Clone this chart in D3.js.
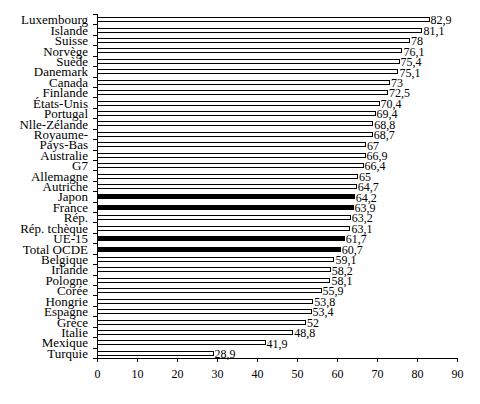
<!DOCTYPE html>
<html>
<head>
<meta charset="utf-8">
<script src="https://cdn.jsdelivr.net/npm/d3@7"></script>
<style>
  html, body { margin: 0; padding: 0; background: #fff; }
  svg { display: block; }
  text { font-family: "Liberation Serif", "Times New Roman", serif; fill: #000; }
</style>
</head>
<body>
<script>
const categories = ["Luxembourg","Islande","Suisse","Norvège","Suède","Danemark","Canada","Finlande","États-Unis","Portugal","Nlle-Zélande","Royaume-","Pays-Bas","Australie","G7","Allemagne","Autriche","Japon","France","Rép.","Rép. tchèque","UE-15","Total OCDE","Belgique","Irlande","Pologne","Corée","Hongrie","Espagne","Grèce","Italie","Mexique","Turquie"];
const values = [82.9,81.1,78,76.1,75.4,75.1,73,72.5,70.4,69.4,68.8,68.7,67,66.9,66.4,65,64.7,64.2,63.9,63.2,63.1,61.7,60.7,59.1,58.2,58.1,55.9,53.8,53.4,52,48.8,41.9,28.9];
const highlighted = ["Japon","France","UE-15","Total OCDE"];
const xTicks = [0,10,20,30,40,50,60,70,80,90];

const W = 480, H = 404;
const svg = d3.select("body").append("svg").attr("width", W).attr("height", H);

const x = d3.scaleLinear().domain([0, 90]).range([97, 457]);
const y = d3.scaleBand().domain(categories).range([14, 358]).paddingInner(0).paddingOuter(0);

const data = categories.map((c, i) => ({ c, v: values[i] }));
const barH = 4;

// bars
svg.append("g").selectAll("rect").data(data).enter().append("rect")
  .attr("x", x(0) + 0.5)
  .attr("y", d => Math.round(y(d.c) + y.bandwidth() / 2 - barH / 2) + 0.5)
  .attr("width", d => x(d.v) - x(0))
  .attr("height", barH)
  .attr("fill", d => highlighted.includes(d.c) ? "#000" : "#fff")
  .attr("stroke", "#000")
  .attr("stroke-width", 1)
  .attr("shape-rendering", "crispEdges");

// value labels
svg.append("g").selectAll("text").data(data).enter().append("text")
  .attr("x", d => x(d.v) + 2)
  .attr("y", d => y(d.c) + y.bandwidth() / 2 + 1)
  .attr("dy", "0.35em")
  .attr("font-size", 12)
  .text(d => String(d.v).replace(".", ","));

// left axis line
const yr = y.range();
svg.append("line")
  .attr("x1", x(0) + 0.5).attr("x2", x(0) + 0.5)
  .attr("y1", yr[0]).attr("y2", yr[1] + 0.5)
  .attr("stroke", "#000").attr("shape-rendering", "crispEdges");

// left ticks at band boundaries
const bounds = categories.map(c => y(c)).concat([yr[1]]);
svg.append("g").selectAll("line").data(bounds).enter().append("line")
  .attr("x1", x(0) - 4).attr("x2", x(0))
  .attr("y1", d => Math.round(d) + 0.5).attr("y2", d => Math.round(d) + 0.5)
  .attr("stroke", "#000").attr("shape-rendering", "crispEdges");

// category labels
svg.append("g").selectAll("text").data(categories).enter().append("text")
  .attr("x", 88)
  .attr("y", d => y(d) + y.bandwidth() / 2 + 0.5)
  .attr("dy", "0.35em")
  .attr("text-anchor", "end")
  .attr("font-size", 13)
  .text(d => d);

// x axis
const xAxis = d3.axisBottom(x).tickValues(xTicks).tickSize(4).tickPadding(7).tickSizeOuter(0)
  .tickFormat(d3.format("d"));
const gx = svg.append("g").attr("transform", `translate(0,${yr[1]})`).call(xAxis);
gx.select(".domain").attr("stroke", "#000").attr("shape-rendering", "crispEdges");
gx.selectAll(".tick line").attr("stroke", "#000").attr("shape-rendering", "crispEdges");
gx.selectAll(".tick text").attr("font-size", 12)
  .attr("font-family", "'Liberation Serif', 'Times New Roman', serif").attr("fill", "#000");
</script>
</body>
</html>
